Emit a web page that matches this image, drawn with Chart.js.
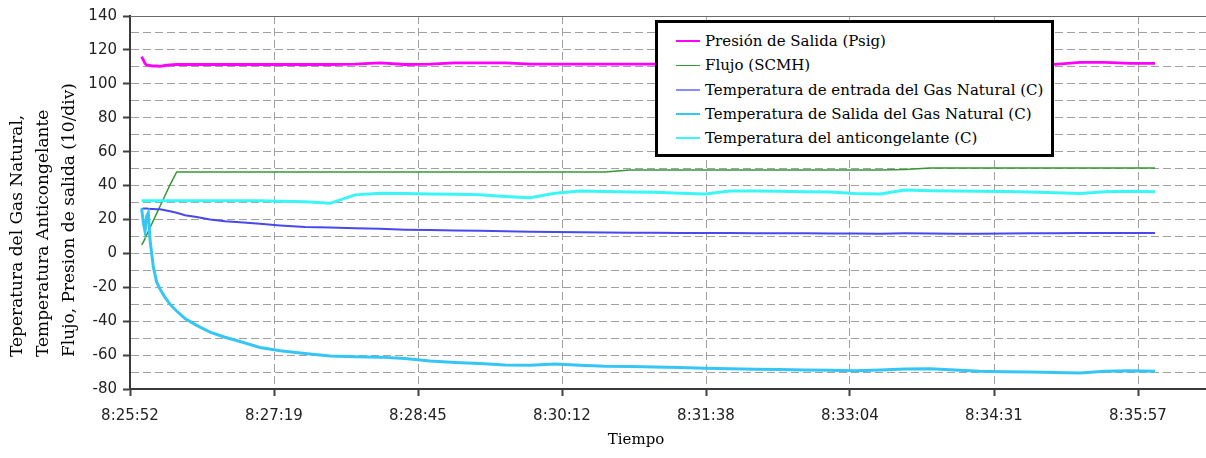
<!DOCTYPE html>
<html>
<head>
<meta charset="utf-8">
<script src="https://cdn.jsdelivr.net/npm/chart.js@4.4.1/dist/chart.umd.min.js"></script>
<style>
  html, body { margin: 0; padding: 0; background: #fff; overflow: hidden; }
  #wrap { position: relative; width: 1206px; height: 458px; }
  #legend {
    position: absolute; left: 655px; top: 20px;
    width: 393px; height: 125px; padding-top: 6px;
    border: 3px solid #000; background: #fff;
    font-family: "DejaVu Serif", serif; font-size: 15px; color: #000;
  }
  .row { height: 24.3px; display: flex; align-items: center; white-space: nowrap; }
  .swatch { width: 24px; margin-left: 18px; margin-right: 5px; }
</style>
</head>
<body>
<div id="wrap">
  <canvas id="chart" width="1206" height="458"></canvas>
  <div id="legend"></div>
</div>
<script>
(function () {
  "use strict";

  // elapsed seconds from the first axis tick (8:25:52)
  var times = [7, 8, 9, 10, 11, 12, 14, 16, 18, 21, 24, 28, 33, 40, 48, 57, 66, 78,
    90, 105, 120, 135, 150, 165, 180, 195, 210, 225, 240, 255, 270, 285, 300, 315,
    330, 345, 360, 375, 390, 405, 420, 435, 450, 465, 480, 495, 510, 525, 540, 555,
    570, 585, 600, 615];

  var presion = [116, 114, 112, 111, 111, 110.8, 110.5, 110.5, 110.3, 110.8, 111.2, 111.4,
    111.4, 111.4, 111.4, 111.4, 111.4, 111.4, 111.4, 111.4, 111.4, 111.6, 112.4, 111.4,
    111.6, 112.4, 112.4, 112.4, 111.6, 111.6, 111.6, 111.6, 111.6, 111.6, 111.8, 111.8,
    111.6, 111.6, 111.8, 111.6, 111.6, 111.8, 111.6, 111.6, 111.8, 111.6, 111.6, 111.8,
    111.6, 111.5, 112.6, 112.7, 112, 112];

  var flujo = [5, 6.6, 8.8, 10.9, 13, 15.1, 19.3, 23.6, 27.8, 34.1, 40.4, 48,
    48, 48, 48, 48, 48, 48, 48, 48, 48, 48, 48, 48, 48, 48, 48, 48, 48, 48, 48, 48,
    49.2, 49.2, 49.2, 49.2, 49.2, 49.2, 49.2, 49.2, 49.2, 49.2, 49.2, 49.4,
    50.4, 50.4, 50.4, 50.4, 50.4, 50.4, 50.4, 50.4, 50.4, 50.4];

  var entrada = [26, 26.5, 26.5, 26.5, 26.3, 26.2, 26.2, 26, 26, 25.4, 24.8, 24,
    22.5, 21.5, 20, 19, 18.3, 17.5, 16.5, 15.5, 15.2, 14.8, 14.5, 14, 13.8, 13.5,
    13.3, 13, 12.8, 12.6, 12.5, 12.3, 12.2, 12.2, 12, 12, 12, 11.9, 11.8, 11.8,
    11.7, 11.7, 11.6, 11.8, 11.7, 11.6, 11.6, 11.7, 11.8, 11.8, 12, 12, 12, 12];

  var salida = [26.5, 18, 13, 22, 24, 8, -8, -17, -21, -26, -30, -34,
    -38.5, -42.5, -46.5, -49.5, -52, -55.5, -57.5, -59, -60.5, -61, -61.2, -62,
    -63.5, -64.3, -65, -65.8, -66, -65.3, -66, -66.6, -66.8, -67, -67.3, -67.7,
    -68, -68.3, -68.5, -68.8, -69, -69.2, -68.8, -68.2, -68, -68.8, -69.5, -69.8,
    -70, -70.3, -70.6, -69.5, -69.3, -69.6];

  var anticongelante = [31, 31, 31, 31, 31, 31, 31, 31, 31, 31, 31, 31,
    31, 31, 31, 31, 31, 31, 30.8, 30.5, 29.5, 34.5, 35.5, 35.3, 35, 34.8,
    34.5, 33.5, 32.8, 35.5, 36.8, 36.5, 36.2, 36, 35.5, 35, 36.8, 36.8, 36.6, 36.4,
    36.2, 35.3, 35, 37.4, 37, 36.8, 36.6, 36.5, 36.2, 35.8, 35.3, 36.4, 36.6, 36.4];

  var tickLabels = ["8:25:52", "8:27:19", "8:28:45", "8:30:12", "8:31:38", "8:33:04", "8:34:31", "8:35:57"];
  var tickStep = 86.4;   // 0.001 day
  var xMax = 645.6;

  var seriesNames = [
    "Presión de Salida (Psig)",
    "Flujo (SCMH)",
    "Temperatura de entrada del Gas Natural (C)",
    "Temperatura de Salida del Gas Natural (C)",
    "Temperatura del anticongelante (C)"
  ];
  var seriesData = [presion, flujo, entrada, salida, anticongelante];
  var lineColors = ["#ff00ff", "#339933", "#4848ee", "#36c6f6", "#3af6f6"];
  var legendColors = ["#ff00ff", "#339933", "#8c8cff", "#36c6f6", "#3af6f6"];
  var lineWidths = [2.8, 1.5, 2, 3, 3];
  var swatchWidths = [2, 1, 2, 2, 2];

  var yTitle = ["Teperatura del Gas Natural,", "Temperatura Anticongelante", "Flujo, Presion de salida (10/div)"];
  var xTitle = "Tiempo";

  var tickFont = { family: "'DejaVu Sans', sans-serif", size: 15 };

  var datasets = seriesData.map(function (vals, i) {
    return {
      label: seriesNames[i],
      data: times.map(function (t, j) { return { x: t, y: vals[j] }; }),
      borderColor: lineColors[i],
      borderWidth: lineWidths[i],
      pointRadius: 0,
      tension: 0,
      fill: false,
      order: seriesData.length - i
    };
  });

  var extras = {
    id: "extras",
    beforeDatasetsDraw: function (chart) {
      var ctx = chart.ctx, a = chart.chartArea;
      ctx.save();
      ctx.strokeStyle = "#6a6a6a";
      ctx.lineWidth = 1;
      ctx.beginPath();
      ctx.moveTo(a.left, a.top + 0.5);
      ctx.lineTo(a.right, a.top + 0.5);
      ctx.stroke();
      ctx.restore();
    },
    afterDraw: function (chart) {
      var ctx = chart.ctx;
      ctx.save();
      ctx.fillStyle = "#000";
      ctx.font = "15px 'DejaVu Serif', serif";
      ctx.textAlign = "center";
      ctx.textBaseline = "middle";
      ctx.fillText(xTitle, 636, 440);
      ctx.font = "17px 'DejaVu Serif', serif";
      ctx.translate(0, 357);
      ctx.rotate(-Math.PI / 2);
      ctx.textAlign = "left";
      var cols = [18, 44, 70];
      yTitle.forEach(function (line, i) {
        ctx.fillText(line, 0, cols[i]);
      });
      ctx.restore();
    }
  };

  new Chart(document.getElementById("chart"), {
    type: "line",
    data: { datasets: datasets },
    plugins: [extras],
    options: {
      responsive: false,
      animation: false,
      devicePixelRatio: 1,
      layout: { padding: { top: 16, right: 0, left: 0, bottom: 0 } },
      plugins: { legend: { display: false }, tooltip: { enabled: false } },
      scales: {
        x: {
          type: "linear",
          min: 0,
          max: xMax,
          afterBuildTicks: function (scale) {
            scale.ticks = tickLabels.map(function (l, i) { return { value: i * tickStep }; });
          },
          afterFit: function (scale) { scale.height = 69; },
          ticks: {
            autoSkip: false,
            maxRotation: 0,
            padding: 11,
            color: "#222",
            font: tickFont,
            callback: function (v, i) { return tickLabels[i]; }
          },
          grid: {
            color: "#a0a0a0",
            lineWidth: 1,
            tickLength: 7,
            tickColor: "#404040",
            tickWidth: 2
          },
          border: { color: "#3a3a3a", width: 2, dash: [8, 4] }
        },
        y: {
          min: -80,
          max: 140,
          afterFit: function (scale) { scale.width = 130; },
          ticks: {
            stepSize: 10,
            autoSkip: false,
            padding: 6,
            color: "#222",
            font: tickFont,
            callback: function (v) { return v % 20 === 0 ? String(v) : ""; }
          },
          grid: {
            color: "#a0a0a0",
            lineWidth: 1,
            tickLength: 7,
            tickWidth: 2,
            tickColor: function (c) {
              return c.tick && c.tick.value % 20 === 0 ? "#404040" : "rgba(0,0,0,0)";
            }
          },
          border: { color: "#3a3a3a", width: 2, dash: [8, 4] }
        }
      }
    }
  });

  var legend = document.getElementById("legend");
  seriesNames.forEach(function (name, i) {
    var row = document.createElement("div");
    row.className = "row";
    var sw = document.createElement("span");
    sw.className = "swatch";
    sw.style.height = swatchWidths[i] + "px";
    sw.style.background = legendColors[i];
    var txt = document.createElement("span");
    txt.textContent = name;
    row.appendChild(sw);
    row.appendChild(txt);
    legend.appendChild(row);
  });
})();
</script>
</body>
</html>
